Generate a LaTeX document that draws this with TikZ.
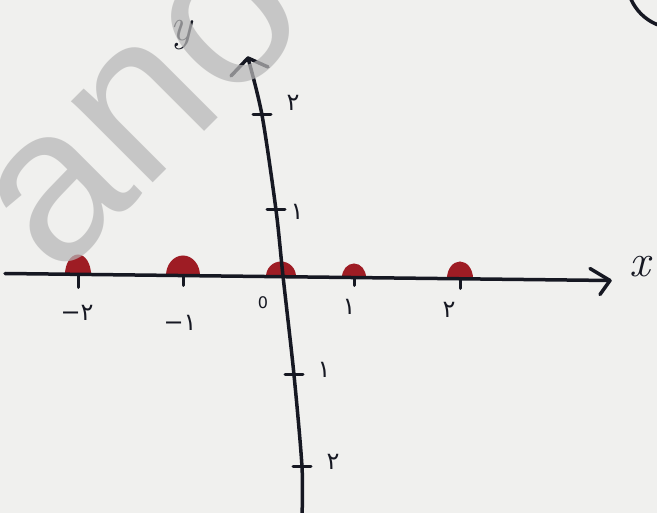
\documentclass[tikz,border=0pt]{standalone}
\usepackage{fontspec}
\newfontfamily\fa{DejaVu Sans}
\newfontfamily\wm{Liberation Sans}
\definecolor{paper}{RGB}{240,240,238}
\definecolor{ink}{RGB}{22,24,34}
\definecolor{dotred}{RGB}{158,28,36}
\definecolor{wmgray}{RGB}{183,183,183}
\begin{document}
\begin{tikzpicture}[x=1pt,y=-1pt,
  axisline/.style={ink, line width=3.5pt, line cap=round, line join=round},
  tickmark/.style={ink, line width=3pt, line cap=round},
  lbl/.style={ink, font=\fa\fontsize{24}{24}\selectfont, inner sep=0pt},
  varlbl/.style={ink, font=\itshape\fontsize{46}{46}\selectfont, inner sep=0pt}]
\useasboundingbox (0,0) rectangle (657,513);
\fill[paper] (0,0) rectangle (657,513);
\begin{scope}
\clip (0,0) rectangle (657,513);
% x axis points
\coordinate (xs) at (5,273.5);
\coordinate (xe) at (610,280.5);
\coordinate (d1) at (78,274.5);
\coordinate (d2) at (183,275.5);
\coordinate (d3) at (281,276.5);
\coordinate (d4) at (354,277.5);
\coordinate (d5) at (460,278.5);
% y axis points
\coordinate (ys) at (248,58);
\coordinate (y2) at (262,115);
\coordinate (y1) at (276,210);
\coordinate (y0) at (283,276);
\coordinate (ym1) at (294,375);
\coordinate (ym2) at (302,467);
\coordinate (ye) at (302,516);
% dots
\foreach \n/\rx/\ry in {d1/13/20, d2/17/20, d3/15/15, d4/12/14, d5/13/17}
  \fill[dotred] (\n) ++(\rx pt,0) arc[start angle=0,end angle=180,x radius=\rx pt,y radius=\ry pt] -- cycle;
% axes
\draw[axisline] (xs) -- (xe);
\draw[axisline] (xe) -- ++(-20pt,12pt) (xe) -- ++(-10pt,-14pt);
\draw[axisline] plot[smooth, tension=0.5] coordinates {(ys) (y2) (y1) (y0) (ym1) (ym2) (ye)};
\draw[axisline] (ys) -- ++(-17pt,-18pt) (ys) -- ++(20pt,-9pt);
% x ticks
\foreach \n/\l in {d1/13, d2/10, d4/8, d5/10}
  \draw[tickmark] (\n) -- ++(0,-\l pt);
% y ticks
\foreach \n in {y2, y1, ym1, ym2}
  \draw[tickmark] (\n) ++(-9pt,0) -- ++(18pt,0);
% labels
\node[lbl] (lm2) at (77,313) {−۲};
\node[lbl] (lm1) at (180,323) {−۱};
\node[lbl, font=\fa\fontsize{16}{16}\selectfont] (l0) at (263,303) {0};
\node[lbl] (lp1) at (349,307) {۱};
\node[lbl] (lp2) at (449,310) {۲};
\node[lbl] (ly2) at (293,103) {۲};
\node[lbl] (ly1) at (297,212) {۱};
\node[lbl] (lym1) at (324,370) {۱};
\node[lbl] (lym2) at (333,462) {۲};
\node[varlbl] (ylab) at (181,35) {y};
\node[varlbl] (xlab) at (640,267) {x};
% partial circle at top right
\draw[ink, line width=3.5pt] (675,-20) circle[radius=48pt];
% watermark
\node[rotate=45, text=wmgray, opacity=0.72, font=\wm\fontsize{218}{218}\selectfont, inner sep=0pt] (wmark) at (145,110) {ano};
\end{scope}
\end{tikzpicture}
\end{document}
